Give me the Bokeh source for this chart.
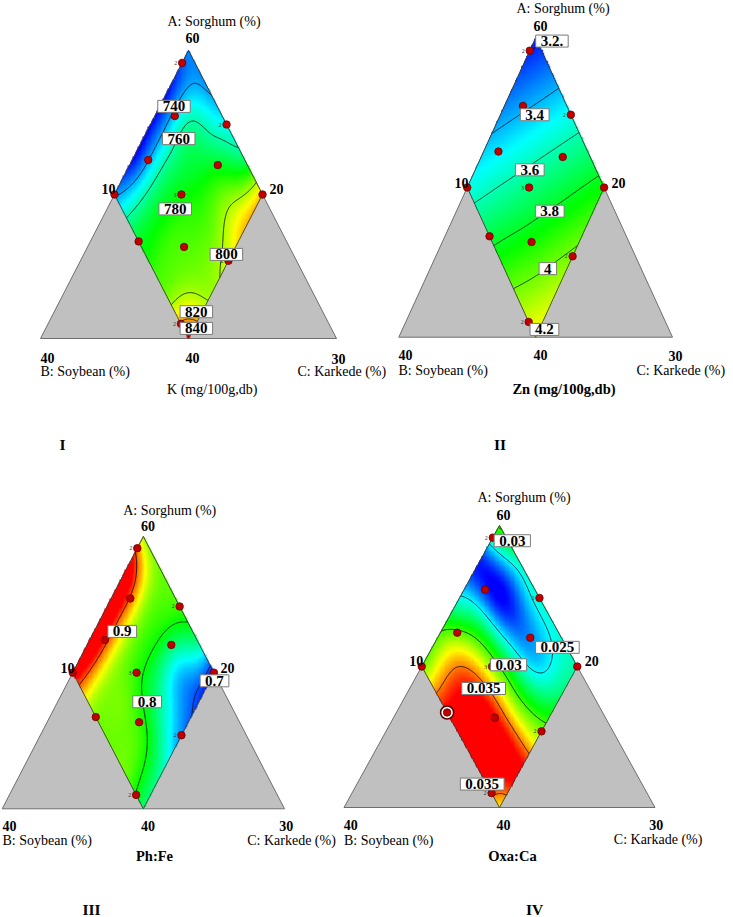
import numpy as np
import contourpy
from bokeh.plotting import figure
from bokeh.models import Range1d, Label
from bokeh.core.properties import value
from bokeh.embed import file_html
from bokeh.resources import INLINE

# ---------------- data ----------------
# pseudo-component grid over the constrained (diamond) region:
# rows = B: Soybean fraction, columns = C: Karkede fraction (A: Sorghum = 1 - B - C)
grid_soy = [0.0, 0.125, 0.25, 0.375, 0.5]
grid_kar = [0.0, 0.125, 0.25, 0.375, 0.5]

# response values at the grid nodes
k_values = [
    [736, 738, 750, 768, 818],
    [722, 760, 772, 793, 818],
    [720, 762, 780, 790, 803],
    [720, 765, 785, 792, 801],
    [738, 770, 785, 798, 842],
]
zn_values = [
    [3.165, 3.34, 3.51, 3.68, 3.855],
    [3.26, 3.43, 3.60, 3.77, 3.95],
    [3.35, 3.52, 3.69, 3.86, 4.04],
    [3.44, 3.61, 3.78, 3.95, 4.13],
    [3.53, 3.70, 3.88, 4.05, 4.22],
]
phfe_values = [
    [0.840, 0.825, 0.815, 0.775, 0.680],
    [0.960, 0.840, 0.798, 0.730, 0.695],
    [0.970, 0.845, 0.800, 0.762, 0.718],
    [0.970, 0.845, 0.825, 0.808, 0.760],
    [0.940, 0.840, 0.825, 0.825, 0.775],
]
oxaca_values = [
    [0.0305, 0.0262, 0.0258, 0.0256, 0.0262],
    [0.0215, 0.0208, 0.0228, 0.0245, 0.0278],
    [0.0250, 0.0285, 0.0300, 0.0305, 0.0318],
    [0.0300, 0.0350, 0.0375, 0.0380, 0.0375],
    [0.0305, 0.0362, 0.0390, 0.0385, 0.0330],
]

# contour levels and contour-label texts / positions (soybean, karkede fractions)
k_levels = [740, 760, 800, 820, 840]
k_labels = ["740", "760", "780", "800", "820", "840"]
k_lab_soy = [0.146, 0.186, 0.32, 0.226, 0.427, 0.456]
k_lab_kar = [0.048, 0.12, 0.23, 0.482, 0.48, 0.509]

zn_levels = [3.2, 3.4, 3.6, 3.8, 4.0, 4.2]
zn_labels = ["3.2.", "3.4", "3.6", "3.8", "4", "4.2"]
zn_lab_soy = [-0.054, 0.132, 0.242, 0.238, 0.341, 0.455]
zn_lab_kar = [0.065, 0.125, 0.199, 0.341, 0.43, 0.519]

phfe_levels = [0.7, 0.8, 0.9]
phfe_labels = ["0.9", "0.8", "0.7"]
phfe_lab_soy = [0.249, 0.29, 0.013]
phfe_lab_kar = [0.0995, 0.317, 0.517]

oxaca_levels = [0.025, 0.03, 0.035]
oxaca_labels = ["0.03", "0.025", "0.03", "0.035", "0.035"]
oxaca_lab_soy = [-0.014, 0.03, 0.218, 0.34, 0.514]
oxaca_lab_kar = [0.068, 0.402, 0.276, 0.238, 0.403]

# design points (soybean, karkede pseudo fractions) and replicate counts
design_soy = [0.043, 0.16, 0.0, 0.326, 0.10, 0.5, 0.274, 0.0, 0.5, 0.356, 0.23, 0.5]
design_kar = [0.0, 0.0675, 0.257, 0.054, 0.298, 0.0, 0.226, 0.5, 0.163, 0.326, 0.5, 0.449]
design_reps = ["2", "", "2", "", "", "", "3", "", "", "", "2", "2"]
highlight_index = 8  # circled point in panel IV

# ---------------- layout / style ----------------
FONT = "Liberation Serif"
PW, PH = 733, 917

panels = [
    dict(values=k_values, vmin=720, vmax=840, levels=k_levels, labels=k_labels,
         lab_soy=k_lab_soy, lab_kar=k_lab_kar, geom=(40.0, 338.0, 296.0, 288.0), circle=False),
    dict(values=zn_values, vmin=3.15, vmax=4.55, levels=zn_levels, labels=zn_labels,
         lab_soy=zn_lab_soy, lab_kar=zn_lab_kar, geom=(398.3, 336.7, 273.7, 299.4), circle=False),
    dict(values=phfe_values, vmin=0.68, vmax=0.92, levels=phfe_levels, labels=phfe_labels,
         lab_soy=phfe_lab_soy, lab_kar=phfe_lab_kar, geom=(1.7, 808.3, 282.3, 272.3), circle=False),
    dict(values=oxaca_values, vmin=0.021, vmax=0.037, levels=oxaca_levels, labels=oxaca_labels,
         lab_soy=oxaca_lab_soy, lab_kar=oxaca_lab_kar, geom=(343.5, 807.0, 311.0, 282.0), circle=True),
]

# page-positioned texts: (text, x, y, align, bold, size)
page_texts = [
    ("A: Sorghum  (%)", 167, 21, "left", False, "14px"),
    ("60", 192, 37.5, "center", True, "14px"),
    ("10", 115, 188, "right", True, "14px"),
    ("20", 269, 188, "left", True, "14px"),
    ("40", 40, 357, "left", True, "14px"),
    ("40", 192, 357, "center", True, "14px"),
    ("30", 338, 358, "center", True, "14px"),
    ("B: Soybean (%)", 40, 371, "left", False, "14px"),
    ("C: Karkede  (%)", 297, 371, "left", False, "14px"),
    ("K (mg/100g,db)", 211.7, 388.5, "center", False, "14px"),
    ("I", 62, 444, "center", True, "15.5px"),

    ("A: Sorghum  (%)", 516, 7.5, "left", False, "14px"),
    ("60", 540, 25, "center", True, "14px"),
    ("10", 468, 182, "right", True, "14px"),
    ("20", 611, 182, "left", True, "14px"),
    ("40", 398, 354, "left", True, "14px"),
    ("40", 540, 354, "center", True, "14px"),
    ("30", 675, 355, "center", True, "14px"),
    ("B: Soybean (%)", 398, 370, "left", False, "14px"),
    ("C: Karkede  (%)", 636, 370, "left", False, "14px"),
    ("Zn (mg/100g,db)", 563.5, 388, "center", True, "14.5px"),
    ("II", 499.5, 444, "center", True, "15.5px"),

    ("A: Sorghum  (%)", 122.7, 509.5, "left", False, "14px"),
    ("60", 147.5, 525, "center", True, "14px"),
    ("10", 74, 667, "right", True, "14px"),
    ("20", 220, 667, "left", True, "14px"),
    ("40", 2, 825, "left", True, "14px"),
    ("40", 147.5, 825, "center", True, "14px"),
    ("30", 285.8, 825, "center", True, "14px"),
    ("B: Soybean (%)", 2, 839.7, "left", False, "14px"),
    ("C: Karkede  (%)", 246.7, 839.7, "left", False, "14px"),
    ("Ph:Fe", 154, 855.5, "center", True, "14.5px"),
    ("III", 91, 909, "center", True, "15.5px"),

    ("A: Sorghum  (%)", 477, 496.7, "left", False, "14px"),
    ("60", 503, 514, "center", True, "14px"),
    ("10", 422.7, 660.5, "right", True, "14px"),
    ("20", 584.3, 660.5, "left", True, "14px"),
    ("40", 343.3, 824, "left", True, "14px"),
    ("40", 503, 824, "center", True, "14px"),
    ("30", 655.7, 824, "center", True, "14px"),
    ("B: Soybean (%)", 343.5, 839.7, "left", False, "14px"),
    ("C: Karkade  (%)", 613.3, 839.3, "left", False, "14px"),
    ("Oxa:Ca", 512, 855.5, "center", True, "14.5px"),
    ("IV", 534, 909, "center", True, "15.5px"),
]


# ---------------- helpers ----------------
def to_xy(soy, kar):
    soy = np.asarray(soy, float)
    kar = np.asarray(kar, float)
    return 0.5 + (kar - soy) / 2.0, 1.0 - soy - kar


def cr_weights(t):
    t2 = t * t
    t3 = t2 * t
    return [-0.5 * t3 + t2 - 0.5 * t,
            1.5 * t3 - 2.5 * t2 + 1.0,
            -1.5 * t3 + 2.0 * t2 + 0.5 * t,
            0.5 * t3 - 0.5 * t2]


def surface(vals, soy, kar):
    g = np.asarray(vals, float)
    g = np.vstack([2 * g[0] - g[1], g, 2 * g[-1] - g[-2]])
    g = np.hstack([(2 * g[:, 0] - g[:, 1])[:, None], g, (2 * g[:, -1] - g[:, -2])[:, None]])
    n = len(grid_soy) - 1
    step_s = grid_soy[1] - grid_soy[0]
    step_k = grid_kar[1] - grid_kar[0]
    u = np.clip((soy - grid_soy[0]) / step_s, 0, n)
    v = np.clip((kar - grid_kar[0]) / step_k, 0, n)
    i = np.minimum(np.floor(u).astype(int), n - 1)
    j = np.minimum(np.floor(v).astype(int), n - 1)
    wu = cr_weights(u - i)
    wv = cr_weights(v - j)
    out = np.zeros_like(u, dtype=float)
    for m in range(4):
        for q in range(4):
            out += wu[m] * wv[q] * g[i + m, j + q]
    return out


def jet(t):
    t = np.clip(t, 0, 1)
    stops = [0, 0.25, 0.5, 0.75, 1.0]
    r = np.interp(t, stops, [0, 0, 0, 255, 255])
    gg = np.interp(t, stops, [0, 255, 255, 255, 0])
    bb = np.interp(t, stops, [255, 255, 0, 0, 0])
    return r, gg, bb


# ---------------- figure ----------------
p = figure(width=PW, height=PH, x_range=Range1d(0, PW), y_range=Range1d(PH, 0),
           output_backend="svg", toolbar_location=None,
           x_axis_location=None, y_axis_location=None, min_border=0)
p.outline_line_color = None
p.grid.grid_line_color = None
p.background_fill_color = "white"
p.border_fill_color = "white"

extra_x = {}
extra_y = {}
for k, pan in enumerate(panels):
    blx, base, w, h = pan["geom"]
    xs = -blx / w
    ys = -(PH - base) / h
    extra_x["x%d" % k] = Range1d(xs, xs + PW / w)
    extra_y["y%d" % k] = Range1d(ys, ys + PH / h)
p.extra_x_ranges = extra_x
p.extra_y_ranges = extra_y

tri_soy = [0.0, 1.0, 0.0]
tri_kar = [0.0, 0.0, 1.0]
dia_soy = [0.0, 0.5, 0.5, 0.0]
dia_kar = [0.0, 0.0, 0.5, 0.5]

for k, pan in enumerate(panels):
    xr, yr = "x%d" % k, "y%d" % k
    blx, base, w, h = pan["geom"]
    rk = dict(x_range_name=xr, y_range_name=yr)

    tx, ty = to_xy(tri_soy, tri_kar)
    p.patch(list(tx), list(ty), fill_color="#C0C0C0", line_color="#6E6E6E", line_width=1, **rk)

    # colour map image over the diamond
    nx, ny = int(round(w / 1.25)), int(round(h / 1.25))
    X, Y = np.meshgrid((np.arange(nx) + 0.5) / nx, (np.arange(ny) + 0.5) / ny)
    kar = X - Y / 2.0
    soy = 1.0 - Y - kar
    tol = 0.0015
    inside = (soy >= -tol) & (soy <= 0.5 + tol) & (kar >= -tol) & (kar <= 0.5 + tol)
    z = surface(pan["values"], np.clip(soy, 0, 0.5), np.clip(kar, 0, 0.5))
    r, gg, bb = jet((z - pan["vmin"]) / (pan["vmax"] - pan["vmin"]))
    img = np.zeros((ny, nx), dtype=np.uint32)
    view = img.view(dtype=np.uint8).reshape((ny, nx, 4))
    view[:, :, 0] = r.astype(np.uint8)
    view[:, :, 1] = gg.astype(np.uint8)
    view[:, :, 2] = bb.astype(np.uint8)
    view[:, :, 3] = np.where(inside, 255, 0).astype(np.uint8)
    p.image_rgba(image=[img], x=0, y=0, dw=1, dh=1, **rk)

    # contour lines
    fs = np.linspace(0, 0.5, 201)
    S, K = np.meshgrid(fs, fs, indexing="ij")
    Z = surface(pan["values"], S, K)
    gen = contourpy.contour_generator(x=fs, y=fs, z=Z)
    cx, cy = [], []
    for lev in pan["levels"]:
        for seg in gen.lines(lev):
            lx, ly = to_xy(seg[:, 1], seg[:, 0])
            cx.append(list(lx))
            cy.append(list(ly))
    if cx:
        p.multi_line(xs=cx, ys=cy, line_color="black", line_width=0.8, **rk)

    dx, dy = to_xy(dia_soy, dia_kar)
    p.patch(list(dx), list(dy), fill_color=None, line_color="#3A3A3A", line_width=0.9, **rk)

    # design points
    px, py = to_xy(design_soy, design_kar)
    if pan["circle"]:
        p.scatter([px[highlight_index]], [py[highlight_index]], size=13, marker="circle",
                  fill_color="white", line_color="#5A0000", line_width=1.6, **rk)
    p.scatter(list(px), list(py), size=7.5, marker="circle",
              fill_color="#C00000", line_color="#6A0000", line_width=0.8, **rk)
    rx = [px[i] for i, t in enumerate(design_reps) if t]
    ry = [py[i] for i, t in enumerate(design_reps) if t]
    rt = [t for t in design_reps if t]
    p.text(rx, ry, text=rt, text_font=value(FONT), text_font_size="6px", text_color="#333333",
           text_align="right", text_baseline="middle", x_offset=-5, **rk)

    # contour value labels
    lx, ly = to_xy(pan["lab_soy"], pan["lab_kar"])
    for t, xx, yy in zip(pan["labels"], lx, ly):
        p.add_layout(Label(x=float(xx), y=float(yy), text=t, text_align="center",
                           text_baseline="middle", text_font=FONT, text_font_size="15px",
                           text_font_style="bold", text_color="black",
                           background_fill_color="white", background_fill_alpha=1.0,
                           border_line_color="#7A7A7A", border_line_width=1,
                           padding=dict(left=5, right=5, top=1, bottom=1),
                           x_range_name=xr, y_range_name=yr))

for t, xx, yy, al, bold, size in page_texts:
    p.add_layout(Label(x=xx, y=yy, text=t, text_align=al, text_baseline="middle",
                       text_font=FONT, text_font_size=size,
                       text_font_style="bold" if bold else "normal", text_color="black"))

open("out.html", "w").write(file_html(p, INLINE))
